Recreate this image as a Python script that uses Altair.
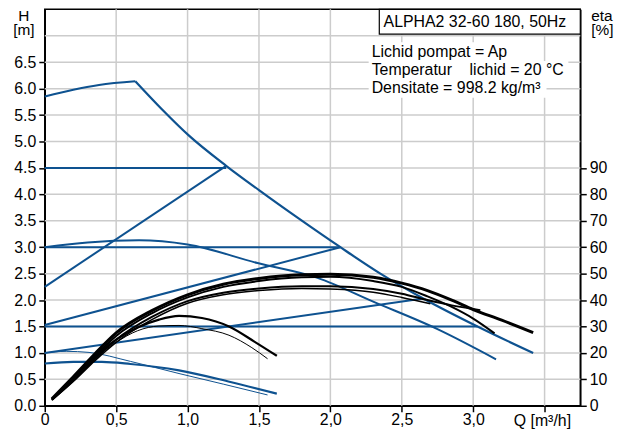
import altair as alt
import pandas as pd

BLUE = "#0e5290"
FONT = "Liberation Sans"

# ---- axis ticks / grid ----
x_ticks = [0, 0.5, 1.0, 1.5, 2.0, 2.5, 3.0, 3.5]
y_ticks = [0, 0.5, 1.0, 1.5, 2.0, 2.5, 3.0, 3.5, 4.0, 4.5, 5.0, 5.5, 6.0, 6.5]
eta_ticks = [0, 10, 20, 30, 40, 50, 60, 70, 80, 90]
grid_x = [0.5, 1.0, 1.5, 2.0, 2.5, 3.0, 3.5]
grid_y = [0.5, 1.0, 1.5, 2.0, 2.5, 3.0, 3.5, 4.0, 4.5, 5.0, 5.5, 6.0, 6.5, 7.0]

# ---- H-Q curves (blue) ----
max_a_q = [0, 0.2, 0.38, 0.634]
max_a_h = [5.85, 5.98, 6.07, 6.14]
max_b_q = [0.634, 0.82, 1.01, 1.27, 1.5, 1.78, 2.07, 2.35, 2.65, 3.03, 3.42]
max_b_h = [6.14, 5.61, 5.11, 4.54, 4.08, 3.54, 3.0, 2.5, 2.03, 1.5, 1.0]
mid_q = [0, 0.3, 0.66, 1.0, 1.49, 1.91, 2.3, 2.75, 3.16]
mid_h = [3.0, 3.09, 3.13, 3.05, 2.70, 2.42, 1.97, 1.45, 0.88]
low_q = [0, 0.2, 0.4, 0.6, 0.94, 1.3, 1.625]
low_h = [0.80, 0.83, 0.83, 0.79, 0.67, 0.45, 0.23]
thin_q = [0, 0.15, 0.31, 0.6, 0.94, 1.25, 1.56]
thin_h = [1.0, 1.03, 1.01, 0.84, 0.61, 0.41, 0.205]

# straight control lines (constant / proportional pressure)
cp45_q = [0, 1.27]; cp45_h = [4.5, 4.5]
cp30_q = [0, 2.07]; cp30_h = [3.0, 3.0]
cp15_q = [0, 3.03]; cp15_h = [1.5, 1.5]
pp1_q = [0, 1.27]; pp1_h = [2.25, 4.54]
pp2_q = [0, 2.07]; pp2_h = [1.53, 3.0]
pp3_q = [0, 2.65]; pp3_h = [1.0, 2.03]

# ---- efficiency curves (black, eta %) ----
k1_q = [0.05, 0.2, 0.35, 0.5, 0.75, 1.0, 1.25, 1.5, 1.8, 2.0, 2.3, 2.5, 2.68, 2.85, 3.0, 3.2, 3.42]
k1_e = [2.6, 11, 19.6, 27.6, 36, 42, 46, 48.2, 49.6, 49.8, 48.6, 46.4, 43.6, 40, 36.4, 32.4, 27.7]
k2_q = [0.05, 0.2, 0.35, 0.5, 0.75, 1.0, 1.25, 1.5, 1.8, 2.0, 2.3, 2.5, 2.68, 2.85, 3.0, 3.15]
k2_e = [2.4, 10.4, 18.6, 26.4, 35, 41, 45, 47.2, 48.6, 48.8, 47.2, 45, 41.4, 37.4, 33, 27.4]
k3_q = [0.05, 0.2, 0.35, 0.5, 0.75, 1.0, 1.25, 1.5, 1.8, 2.0, 2.3, 2.5, 2.68, 2.85, 3.05]
k3_e = [2.2, 9.6, 17.6, 25, 33.6, 39.6, 42.8, 44.4, 45.2, 45.2, 44.2, 42.4, 40, 38, 36.2]
k4_q = [0.05, 0.2, 0.35, 0.5, 0.75, 1.0, 1.25, 1.5, 1.8, 2.0, 2.3, 2.5, 2.7]
k4_e = [2.2, 9.2, 17, 24, 32.6, 38.8, 42, 43.6, 44.4, 44.2, 43, 41, 38.6]
k5_q = [0.05, 0.2, 0.35, 0.5, 0.65, 0.8, 0.94, 1.1, 1.29, 1.47, 1.625]
k5_e = [2.4, 10.4, 18.4, 25, 29.6, 32.6, 34, 33.2, 30, 24.2, 18.9]
k6_q = [0.05, 0.2, 0.35, 0.5, 0.65, 0.8, 0.94, 1.1, 1.29, 1.45, 1.56]
k6_e = [2.2, 10, 18, 24, 28.4, 30.2, 30.4, 29.2, 26.7, 22, 17.8]


def frame(curves, valname):
    rows = []
    for cid, qs, vs, w in curves:
        for i, (q, v) in enumerate(zip(qs, vs)):
            rows.append({"id": cid, "q": q, valname: v, "w": w, "o": i})
    return pd.DataFrame(rows)


straight = frame([
    ("cp45", cp45_q, cp45_h, 2), ("cp30", cp30_q, cp30_h, 2), ("cp15", cp15_q, cp15_h, 2),
    ("pp1", pp1_q, pp1_h, 2), ("pp2", pp2_q, pp2_h, 2), ("pp3", pp3_q, pp3_h, 2),
], "h")
curved = frame([
    ("maxa", max_a_q, max_a_h, 2), ("maxb", max_b_q, max_b_h, 2.2),
    ("mid", mid_q, mid_h, 2), ("low", low_q, low_h, 2.2), ("thin", thin_q, thin_h, 1),
], "h")
eff = frame([
    ("k1", k1_q, k1_e, 3), ("k2", k2_q, k2_e, 2), ("k3", k3_q, k3_e, 2),
    ("k4", k4_q, k4_e, 1.5), ("k5", k5_q, k5_e, 2.2), ("k6", k6_q, k6_e, 1),
], "eta")

xscale = alt.Scale(domain=[0, 3.75], nice=False, zero=False)
yscale = alt.Scale(domain=[0, 7.5], nice=False)
escale = alt.Scale(domain=[0, 150], nice=False)

x_axis = alt.Axis(
    values=x_ticks, title=None, grid=False, labelFlush=False, labelOverlap=False,
    labelExpr="datum.value == 0 ? '0' : (datum.value > 3.4 ? '' : replace(format(datum.value, '.1f'), '.', ','))",
    labelPadding=0,
)
y_axis = alt.Axis(values=y_ticks, format=".1f", title=None, grid=False, labelOverlap=False,
                  labelPadding=3, orient="left")
e_axis = alt.Axis(values=eta_ticks, format="d", title=None, grid=False, orient="right",
                  labelOverlap=False, labelPadding=3)

X = alt.X("q:Q", scale=xscale, axis=x_axis)
YL = alt.Y("h:Q", scale=yscale, axis=y_axis)

gx = alt.Chart(pd.DataFrame({"q": grid_x})).mark_rule(color="#cccccc", strokeWidth=1.5).encode(x=X)
gy = alt.Chart(pd.DataFrame({"h": grid_y})).mark_rule(color="#cccccc", strokeWidth=1.5).encode(y=YL)

lines_straight = alt.Chart(straight).mark_line(interpolate="linear", color=BLUE).encode(
    x=X, y=YL, detail="id:N", order="o:Q",
    strokeWidth=alt.StrokeWidth("w:Q", scale=None))
lines_curved = alt.Chart(curved).mark_line(interpolate="monotone", color=BLUE).encode(
    x=X, y=YL, detail="id:N", order="o:Q",
    strokeWidth=alt.StrokeWidth("w:Q", scale=None))

left = alt.layer(gx, gy, lines_straight, lines_curved)

eff_lines = alt.Chart(eff).mark_line(interpolate="monotone", color="black").encode(
    x=X, y=alt.Y("eta:Q", scale=escale, axis=e_axis), detail="id:N", order="o:Q",
    strokeWidth=alt.StrokeWidth("w:Q", scale=None))

# ---- annotations ----
one = pd.DataFrame({"a": [0]})
box = alt.Chart(one).mark_rect(fill="white", stroke="black", strokeWidth=1.2).encode(
    x=alt.value(336.7), x2=alt.value(539), y=alt.value(0), y2=alt.value(25))
info_bg = [
    alt.Chart(one).mark_rect(fill="white").encode(
        x=alt.value(326), x2=alt.value(x2), y=alt.value(y1), y2=alt.value(y2))
    for x2, y1, y2 in [(472, 33, 52), (527, 52, 70), (505, 70, 89)]
]


def txt(s, x, y, align="left", size=16):
    return alt.Chart(one).mark_text(
        text=s, align=align, baseline="alphabetic", font=FONT, fontSize=size, color="black"
    ).encode(x=alt.value(x), y=alt.value(y))


texts = [
    txt("ALPHA2 32-60 180, 50Hz", 341, 18),
    txt("Lichid pompat = Ap", 329, 48),
    txt("Temperatur\u00a0\u00a0\u00a0\u00a0lichid = 20 °C", 329, 66),
    txt("Densitate = 998.2 kg/m³", 329, 84),
    txt("H", -21, 11.5, "center", 15.5),
    txt("[m]", -21, 26, "center", 15.5),
    txt("eta", 550, 12, "left", 15.5),
    txt("[%]", 550, 26, "left", 15.5),
    txt("Q [m³/h]", 472, 419, "left", 16),
]

chart = alt.layer(left, eff_lines, box, *info_bg, *texts).resolve_scale(y="independent").properties(
    width=539, height=399,
    autosize=alt.AutoSizeParams(type="none"),
    padding={"left": 37, "top": 0, "right": 45, "bottom": 22},
).configure_view(stroke="black", strokeWidth=1.5).configure_axis(
    labelFont=FONT, labelFontSize=16, labelColor="black", tickColor="black", tickWidth=1.5,
    tickSize=6, domainColor="black", domainWidth=1.5,
)

chart.save("out.html", embed_options={"renderer": "svg", "actions": False})
